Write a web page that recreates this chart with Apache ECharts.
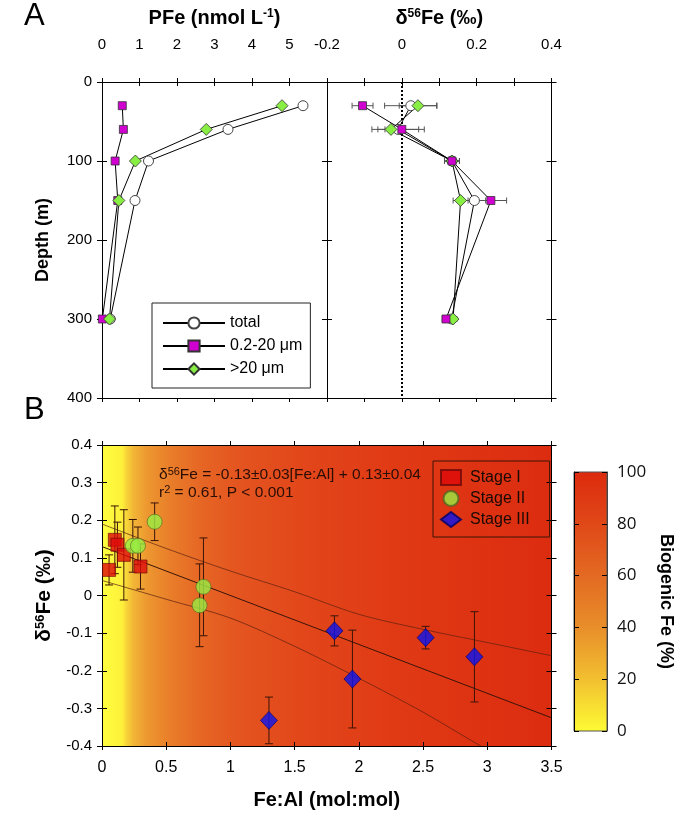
<!DOCTYPE html>
<html><head><meta charset="utf-8">
<script src="https://cdn.jsdelivr.net/npm/echarts@6/dist/echarts.min.js"></script>
<style>html,body{margin:0;padding:0;background:#fff}#c{width:680px;height:818px}</style>
</head><body><div id="c"></div>
<script>
// ---------- Panel A data ----------
const depths = [30, 60, 100, 150, 300];
const pfeTotal = [5.36, 3.36, 1.24, 0.88, 0.22];
const pfeSmall = [0.54, 0.57, 0.35, 0.42, 0.01];
const pfeLarge = [4.80, 2.78, 0.89, 0.45, 0.20];
const dTotal = [0.024, -0.010, 0.134, 0.194, 0.133];
const dSmall = [-0.105, 0.000, 0.134, 0.238, 0.118];
const dLarge = [0.043, -0.029, 0.134, 0.157, 0.137];
const eTotal = [0.070, 0.070, 0.020, 0.030, 0.010];
const eSmall = [0.028, 0.045, 0.020, 0.042, 0.010];
const eLarge = [0.050, 0.035, 0.020, 0.020, 0.010];
const pfeTicks = [0, 1, 2, 3, 4, 5];
const deltaTicks = [-0.2, 0, 0.2, 0.4];
// ---------- Panel B data ----------
const s1X = [0.055, 0.10, 0.12, 0.17, 0.30];
const s1Y = [0.068, 0.148, 0.135, 0.108, 0.077];
const s1E = [0.040, 0.090, 0.060, 0.120, 0.060];
const s2X = [0.24, 0.28, 0.41, 0.76, 0.79];
const s2Y = [0.132, 0.132, 0.196, -0.026, 0.023];
const s2E = [0.070, 0.050, 0.050, 0.110, 0.130];
const s3X = [1.30, 1.81, 1.95, 2.52, 2.90];
const s3Y = [-0.332, -0.094, -0.222, -0.112, -0.163];
const s3E = [0.062, 0.040, 0.130, 0.030, 0.120];
const fitX = [0, 3.5];
const fitY = [0.13, -0.325];
const bandX = [0, 0.5, 1, 1.5, 2, 2.5, 3, 3.5];
const bandUp = [0.19, 0.125, 0.065, 0.01, -0.05, -0.09, -0.125, -0.16];
const bandLo = [0.04, -0.01, -0.06, -0.135, -0.22, -0.31, -0.41, -0.50];
const cbTicks = [0, 20, 40, 60, 80, 100];

const FONT = "'Liberation Sans', Arial, sans-serif";
const chart = echarts.init(document.getElementById('c'));
const zip = (a, b) => a.map((v, i) => [v, b[i]]);

const xAxes = [], yAxes = [];
function axis(list, grid, pos, min, max, interval, opts) {
  opts = opts || {};
  const base = {
    type: 'value', gridIndex: grid, position: pos, min: min, max: max, interval: interval,
    inverse: !!opts.inverse,
    axisLine: { show: true, onZero: false, lineStyle: { color: '#000', width: 1 } },
    axisTick: { show: true, inside: false, length: opts.outLen == null ? 4 : opts.outLen, lineStyle: { color: '#000' } },
    axisLabel: opts.label ? Object.assign({ show: true, color: '#000', fontFamily: FONT, fontSize: 15 }, opts.label) : { show: false },
    splitLine: { show: false }
  };
  if (opts.name) Object.assign(base, opts.name);
  list.push(base);
  if (opts.inLen) {
    list.push({
      type: 'value', gridIndex: grid, position: pos, min: min, max: max, interval: interval, inverse: !!opts.inverse,
      axisLine: { show: false, onZero: false },
      axisTick: { show: true, inside: true, length: opts.inLen, lineStyle: { color: '#000' } },
      axisLabel: { show: false }, splitLine: { show: false }
    });
  }
  return list.length - (opts.inLen ? 2 : 1);
}
function richT(size) {
  return {
    b: { fontFamily: FONT, fontSize: size, fontWeight: 'bold', color: '#000' },
    s: { fontFamily: FONT, fontSize: Math.round(size * 0.62), fontWeight: 'bold', color: '#000', verticalAlign: 'top', padding: [0, 0, 7, 0] }
  };
}
// Grid 0: PFe
const xA1 = axis(xAxes, 0, 'top', 0, 6, 1, { inLen: 4, label: { margin: 30, formatter: v => pfeTicks.includes(v) ? String(v) : '' },
  name: { name: '{b|PFe (nmol L}{s|-1}{b|)}', nameLocation: 'middle', nameGap: 54, nameTextStyle: { rich: richT(20) } } });
axis(xAxes, 0, 'bottom', 0, 6, 1, {});
const yA1 = axis(yAxes, 0, 'left', 0, 400, 100, { inverse: true, outLen: 5, inLen: 5, label: { margin: 10, fontSize: 15 },
  name: { name: 'Depth (m)', nameLocation: 'middle', nameGap: 50, nameTextStyle: { fontFamily: FONT, fontSize: 18, fontWeight: 'bold', color: '#000' } } });
axis(yAxes, 0, 'right', 0, 400, 100, { inverse: true, outLen: 5, inLen: 5 });
// Grid 1: delta56Fe
const xA2 = axis(xAxes, 1, 'top', -0.2, 0.4, 0.1, { inLen: 4, label: { margin: 30, showMinLabel: true,
  formatter: v => { const r = Math.round(v * 10) / 10; return deltaTicks.some(t => Math.abs(t - r) < 1e-9) ? (r === 0 ? '0' : r.toFixed(1)) : ''; } },
  name: { name: '{b|δ}{s|56}{b|Fe (‰)}', nameLocation: 'middle', nameGap: 54, nameTextStyle: { rich: richT(20) } } });
axis(xAxes, 1, 'bottom', -0.2, 0.4, 0.1, {});
const yA2 = axis(yAxes, 1, 'left', 0, 400, 100, { inverse: true, outLen: 5, inLen: 5 });
axis(yAxes, 1, 'right', 0, 400, 100, { inverse: true, outLen: 5, inLen: 5 });
// Grid 2: panel B
const xB = axis(xAxes, 2, 'bottom', 0, 3.5, 0.5, { outLen: 4, inLen: 4, label: { margin: 14, fontSize: 16 },
  name: { name: 'Fe:Al (mol:mol)', nameLocation: 'middle', nameGap: 44, nameTextStyle: { fontFamily: FONT, fontSize: 20, fontWeight: 'bold', color: '#000' } } });
axis(xAxes, 2, 'top', 0, 3.5, 0.5, { outLen: 4 });
const yB = axis(yAxes, 2, 'left', -0.4, 0.4, 0.1, { outLen: 5, inLen: 5, label: { margin: 10, fontSize: 15, formatter: v => { const r = Math.round(v * 10) / 10; return r === 0 ? '0' : String(r); } },
  name: { name: '{b|δ}{s|56}{b|Fe (‰)}', nameLocation: 'middle', nameGap: 47, nameTextStyle: { rich: richT(21) } } });
axis(yAxes, 2, 'right', -0.4, 0.4, 0.1, { outLen: 5, inLen: 5 });
// Grid 3: colorbar
xAxes.push({ type: 'value', gridIndex: 3, min: 0, max: 1, show: false });
const yC = axis(yAxes, 3, 'right', 0, 100, 20, { outLen: 0, inLen: 5, label: { margin: 10, fontSize: 17, fontFamily: "'Open Sans', 'Liberation Sans', sans-serif", color: '#111' },
  name: { name: 'Biogenic Fe (%)', nameLocation: 'middle', nameRotate: -90, nameGap: 50, nameTextStyle: { fontFamily: FONT, fontSize: 18, fontWeight: 'bold', color: '#000' } } });
axis(yAxes, 3, 'left', 0, 100, 20, { outLen: 0, inLen: 5 });
yAxes[yC].axisLine.lineStyle.color = '#444';

function hErr(name, xa, ya, xs, es, ys) {
  return {
    type: 'custom', name: name, xAxisIndex: xa, yAxisIndex: ya, z: 1, silent: true,
    data: xs.map((x, i) => [x - es[i], x + es[i], ys[i]]),
    encode: { x: [0, 1], y: 2 },
    renderItem: (p, api) => {
      const a = api.coord([api.value(0), api.value(2)]), b = api.coord([api.value(1), api.value(2)]);
      const st = { stroke: '#555', lineWidth: 1 };
      return { type: 'group', children: [
        { type: 'line', shape: { x1: a[0], y1: a[1], x2: b[0], y2: b[1] }, style: st },
        { type: 'line', shape: { x1: a[0], y1: a[1] - 3, x2: a[0], y2: a[1] + 3 }, style: st },
        { type: 'line', shape: { x1: b[0], y1: b[1] - 3, x2: b[0], y2: b[1] + 3 }, style: st }] };
    }
  };
}
function vErr(name, xs, ys, es) {
  return {
    type: 'custom', name: name, xAxisIndex: xB, yAxisIndex: yB, z: 3, silent: true,
    data: xs.map((x, i) => [x, ys[i] - es[i], ys[i] + es[i]]),
    encode: { x: 0, y: [1, 2] },
    renderItem: (p, api) => {
      const a = api.coord([api.value(0), api.value(1)]), b = api.coord([api.value(0), api.value(2)]);
      const st = { stroke: '#3a1408', lineWidth: 1 };
      return { type: 'group', children: [
        { type: 'line', shape: { x1: a[0], y1: a[1], x2: b[0], y2: b[1] }, style: st },
        { type: 'line', shape: { x1: a[0] - 4, y1: a[1], x2: a[0] + 4, y2: a[1] }, style: st },
        { type: 'line', shape: { x1: b[0] - 4, y1: b[1], x2: b[0] + 4, y2: b[1] }, style: st }] };
    }
  };
}
const stA = {
  small: { symbol: 'rect', symbolSize: 8, itemStyle: { color: '#d000d0', borderColor: '#333', borderWidth: 0.8 } },
  total: { symbol: 'circle', symbolSize: 10, itemStyle: { color: '#fff', borderColor: '#444', borderWidth: 1 } },
  large: { symbol: 'diamond', symbolSize: 12, itemStyle: { color: '#88ee44', borderColor: '#333', borderWidth: 0.8 } }
};
function lineA(name, st, xa, ya, xs, z) {
  return Object.assign({ type: 'line', name: name, xAxisIndex: xa, yAxisIndex: ya, z: z || 4, showSymbol: true, animation: false,
    lineStyle: { color: '#000', width: 1 }, data: zip(xs, depths) }, st);
}
const bandStyle = { type: 'line', xAxisIndex: xB, yAxisIndex: yB, symbol: 'none', smooth: 0.3, z: 2, silent: true, lineStyle: { color: '#5a2010', width: 0.7 } };
const series = [
  hErr('errS', xA2, yA2, dSmall, eSmall, depths),
  hErr('errT', xA2, yA2, dTotal, eTotal, depths),
  hErr('errL', xA2, yA2, dLarge, eLarge, depths),
  lineA('0.2-20 μm', stA.small, xA1, yA1, pfeSmall),
  lineA('total', stA.total, xA1, yA1, pfeTotal),
  lineA('>20 μm', stA.large, xA1, yA1, pfeLarge),
  Object.assign(lineA('0.2-20 μm', stA.small, xA2, yA2, dSmall, 5), {
    markLine: { silent: true, symbol: 'none', label: { show: false }, lineStyle: { color: '#000', type: [2, 2], width: 2 }, data: [{ xAxis: 0 }] } }),
  lineA('total', stA.total, xA2, yA2, dTotal),
  lineA('>20 μm', stA.large, xA2, yA2, dLarge),
  // Panel B regression + bands
  { type: 'line', name: 'fit', xAxisIndex: xB, yAxisIndex: yB, data: zip(fitX, fitY), symbol: 'none', z: 2, lineStyle: { color: '#3a1408', width: 1 }, silent: true },
  Object.assign({ name: 'up', data: zip(bandX, bandUp) }, bandStyle),
  Object.assign({ name: 'lo', data: zip(bandX, bandLo) }, bandStyle),
  vErr('e1', s1X, s1Y, s1E), vErr('e2', s2X, s2Y, s2E), vErr('e3', s3X, s3Y, s3E),
  { type: 'scatter', name: 'Stage I', xAxisIndex: xB, yAxisIndex: yB, z: 5, symbol: 'rect', symbolSize: 13, data: zip(s1X, s1Y), itemStyle: { color: '#dd0a0a', borderColor: '#6a0a0a', borderWidth: 0.8 } },
  { type: 'scatter', name: 'Stage II', xAxisIndex: xB, yAxisIndex: yB, z: 5, symbol: 'circle', symbolSize: 15, data: zip(s2X, s2Y), itemStyle: { color: '#99ee44', borderColor: '#556622', borderWidth: 0.8 } },
  { type: 'scatter', name: 'Stage III', xAxisIndex: xB, yAxisIndex: yB, z: 5, symbol: 'diamond', symbolSize: [17, 18], data: zip(s3X, s3Y), itemStyle: { color: '#0a14f0', borderColor: '#000066', borderWidth: 0.8 } }
];
const bgGrad = new echarts.graphic.LinearGradient(0, 0, 1, 0, [
  { offset: 0, color: '#ffff40' }, { offset: 0.045, color: '#fdf03a' }, { offset: 0.055, color: '#f7d438' },
  { offset: 0.07, color: '#f2b636' }, { offset: 0.1, color: '#ed9830' }, { offset: 0.15, color: '#e97e2a' },
  { offset: 0.22, color: '#e66624' }, { offset: 0.3, color: '#e45520' }, { offset: 0.45, color: '#e2461a' },
  { offset: 0.65, color: '#e03a15' }, { offset: 1, color: '#dc2c10' }]);
const cbGrad = new echarts.graphic.LinearGradient(0, 0, 0, 1, [
  { offset: 0, color: '#dc2a0e' }, { offset: 0.2, color: '#e04818' }, { offset: 0.4, color: '#e36a22' },
  { offset: 0.6, color: '#e88e2a' }, { offset: 0.8, color: '#f2c030' }, { offset: 1, color: '#fdfb34' }]);

chart.setOption({
  animation: false,
  textStyle: { fontFamily: FONT },
  grid: [
    { left: 102, top: 82, width: 225, height: 316 },
    { left: 327, top: 82, width: 224.5, height: 316 },
    { left: 102, top: 445, width: 449.5, height: 301, show: true, backgroundColor: bgGrad, borderWidth: 0 },
    { left: 574, top: 472, width: 33, height: 259, show: true, backgroundColor: cbGrad, borderColor: '#555', borderWidth: 1 }
  ],
  xAxis: xAxes, yAxis: yAxes,
  legend: [
    { data: ['total', '0.2-20 μm', '>20 μm'], orient: 'vertical', left: 152, top: 303, itemWidth: 62, itemHeight: 14, itemGap: 7,
      padding: [12, 8, 11, 10], borderColor: '#222', borderWidth: 1, textStyle: { fontFamily: FONT, fontSize: 16, color: '#000' }, selectedMode: false },
    { data: ['Stage I', 'Stage II', 'Stage III'], orient: 'vertical', left: 433, top: 461, itemWidth: 20, itemHeight: 15, itemGap: 4,
      padding: [8, 20, 9, 7], borderColor: '#3a1408', borderWidth: 1, textStyle: { fontFamily: FONT, fontSize: 16, color: '#1a0a04', padding: [0, 0, 0, 4] }, selectedMode: false }
  ],
  graphic: [
    { type: 'text', left: 24, top: 1, style: { text: 'A', font: '31px ' + FONT, fill: '#000' } },
    { type: 'text', left: 24, top: 395, style: { text: 'B', font: '31px ' + FONT, fill: '#000' } },
    { type: 'text', left: 159, top: 466, z: 10, style: { text: '{t|δ}{s|56}{t|Fe = -0.13±0.03[Fe:Al] + 0.13±0.04}\n{t|r}{s|2}{t| = 0.61, P < 0.001}',
      rich: { t: { fontFamily: FONT, fontSize: 15.5, fill: '#2a0e06', lineHeight: 18 }, s: { fontFamily: FONT, fontSize: 11, fill: '#2a0e06', verticalAlign: 'top', lineHeight: 18 } } } }
  ],
  series: series
});
</script></body></html>
